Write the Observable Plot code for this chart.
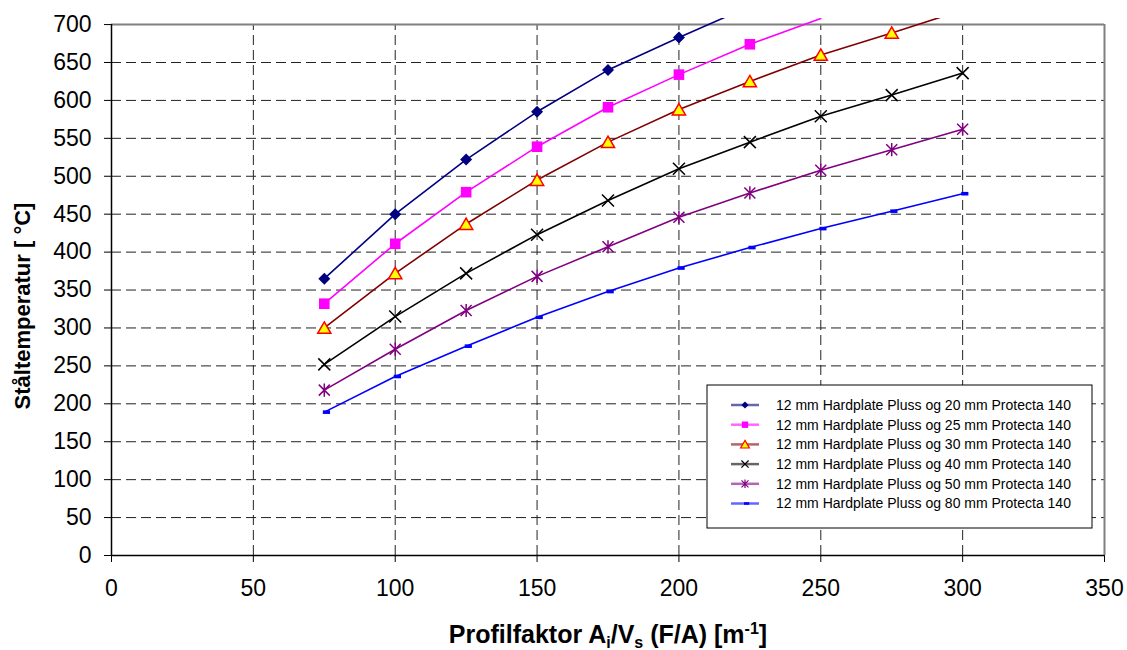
<!DOCTYPE html>
<html>
<head>
<meta charset="utf-8">
<script src="https://cdn.jsdelivr.net/npm/d3@7"></script>
<script src="https://cdn.jsdelivr.net/npm/@observablehq/plot@0.6"></script>
<style>
  html, body { margin: 0; padding: 0; background: #fff; }
  #chart { width: 1127px; height: 650px; }
</style>
</head>
<body>
<div id="chart"></div>
<script>
// Profile factor (x) and steel temperature (y) per insulation build-up
const profileFactors = [75, 100, 125, 150, 175, 200, 225, 250, 275, 300];

const seriesNames = [
  "12 mm Hardplate Pluss og 20 mm Protecta 140",
  "12 mm Hardplate Pluss og 25 mm Protecta 140",
  "12 mm Hardplate Pluss og 30 mm Protecta 140",
  "12 mm Hardplate Pluss og 40 mm Protecta 140",
  "12 mm Hardplate Pluss og 50 mm Protecta 140",
  "12 mm Hardplate Pluss og 80 mm Protecta 140"
];

const temp20 = [365, 450, 522, 585, 640, 683, 724];
const temp25 = [332, 411, 479, 539, 591, 634, 674, 708];
const temp30 = [300, 372, 437, 495, 545, 588, 625, 660, 689, 719];
const temp40 = [252, 315, 372, 423, 468, 510, 545, 579, 607, 636];
const temp50 = [218, 272, 323, 368, 407, 446, 478, 508, 535, 562];
const temp80 = [189, 236, 276, 314, 348, 379, 406, 431, 454, 477];

const xTicks = [0, 50, 100, 150, 200, 250, 300, 350];
const yTicks = [0, 50, 100, 150, 200, 250, 300, 350, 400, 450, 500, 550, 600, 650, 700];
const xGrid = [50, 100, 150, 200, 250, 300];
const yGrid = [50, 100, 150, 200, 250, 300, 350, 400, 450, 500, 550, 600, 650];
const yMax = 700;

// Marker shapes in the spreadsheet style
const diamond = {draw(c, size) {
  const r = Math.sqrt(size / Math.PI);
  c.moveTo(0, -r); c.lineTo(r, 0); c.lineTo(0, r); c.lineTo(-r, 0); c.closePath();
}};
const square = {draw(c, size) {
  const r = Math.sqrt(size / Math.PI);
  c.rect(-r, -r, 2 * r, 2 * r);
}};
const triangle = {draw(c, size) {
  const r = Math.sqrt(size / Math.PI);
  c.moveTo(0, -r); c.lineTo(r * 1.1, r * 0.9); c.lineTo(-r * 1.1, r * 0.9); c.closePath();
}};
const cross = {draw(c, size) {
  const r = Math.sqrt(size / Math.PI);
  c.moveTo(-r, -r); c.lineTo(r, r); c.moveTo(-r, r); c.lineTo(r, -r);
}};
const star = {draw(c, size) {
  const r = Math.sqrt(size / Math.PI);
  c.moveTo(-r, -r); c.lineTo(r, r); c.moveTo(-r, r); c.lineTo(r, -r);
  c.moveTo(0, -r * 1.2); c.lineTo(0, r * 1.2);
}};
const dash = {draw(c, size) {
  const r = Math.sqrt(size / Math.PI);
  c.rect(-r * 0.4, -r * 0.5, r * 2, r);
}};

const styles = [
  {line: "#000080", symbol: diamond,  fill: "#000080", stroke: "none",    r: 6,   sw: 0},
  {line: "#ff00ff", symbol: square,   fill: "#ff00ff", stroke: "none",    r: 5.3, sw: 0},
  {line: "#800000", symbol: triangle, fill: "#ffff00", stroke: "#ff0000", r: 6,   sw: 1.5},
  {line: "#000000", symbol: cross,    fill: "none",    stroke: "#000000", r: 6,   sw: 1.5},
  {line: "#800080", symbol: star,     fill: "none",    stroke: "#800080", r: 5.5, sw: 1.5},
  {line: "#0000ff", symbol: dash,     fill: "#0000ff", stroke: "none",    r: 3.6, sw: 0}
];

const temps = [temp20, temp25, temp30, temp40, temp50, temp80];
const rows = temps.map((vals, i) =>
  vals.map((t, j) => ({series: seriesNames[i], x: profileFactors[j], y: t}))
);

const font = "'Liberation Sans', Arial, sans-serif";
const gridStyle = {stroke: "#222", strokeWidth: 1, strokeDasharray: "10,5"};

const seriesMarks = rows.flatMap((data, i) => {
  const s = styles[i];
  return [
    Plot.line(data, {x: "x", y: "y", stroke: s.line, strokeWidth: 1.6, clip: true}),
    Plot.dot(data.filter(d => d.y <= yMax), {
      x: "x", y: "y", symbol: s.symbol, r: s.r,
      fill: s.fill, stroke: s.stroke, strokeWidth: s.sw
    })
  ];
});

const chart = Plot.plot({
  width: 1127,
  height: 650,
  marginLeft: 111,
  marginRight: 23,
  marginTop: 18,
  marginBottom: 95,
  style: {fontFamily: font, fontSize: "23px", color: "#000", background: "#fff", overflow: "visible"},
  x: {domain: [0, 350]},
  y: {domain: [0, 708]},
  marks: [
    Plot.ruleY(yGrid, {x1: 0, x2: 350, ...gridStyle}),
    Plot.ruleX(xGrid, {y1: 0, y2: yMax, ...gridStyle}),
    Plot.ruleY([yMax], {x1: 0, x2: 350, stroke: "#808080", strokeWidth: 2}),
    Plot.ruleX([350], {y1: 0, y2: yMax, stroke: "#808080", strokeWidth: 2}),
    Plot.axisX({ticks: xTicks, tickSize: 7, tickPadding: 17, label: null, tickFormat: d => String(d)}),
    Plot.axisY({ticks: yTicks, tickSize: 7, tickPadding: 13, label: null, tickFormat: d => String(d)}),
    Plot.ruleX([0], {y1: 0, y2: yMax, stroke: "#000", strokeWidth: 1.5}),
    Plot.ruleY([0], {x1: 0, x2: 350, stroke: "#000", strokeWidth: 1.5}),
    ...seriesMarks
  ]
});

document.getElementById("chart").appendChild(chart);

const svg = d3.select(chart);

// Axis titles
const xt = svg.append("text")
  .attr("x", 608).attr("y", 643)
  .attr("text-anchor", "middle")
  .attr("font-family", font).attr("font-weight", "bold").attr("font-size", 25)
  .attr("fill", "#000");
xt.append("tspan").text("Profilfaktor A");
xt.append("tspan").attr("font-size", 16).attr("dy", 5).text("i");
xt.append("tspan").attr("dy", -5).text("/V");
xt.append("tspan").attr("font-size", 16).attr("dy", 5).text("s");
xt.append("tspan").attr("dy", -5).text(" (F/A) [m");
xt.append("tspan").attr("font-size", 16).attr("dy", -9).text("-1");
xt.append("tspan").attr("dy", 9).text("]");

svg.append("text")
  .attr("transform", "translate(30,306) rotate(-90)")
  .attr("text-anchor", "middle")
  .attr("font-family", font).attr("font-weight", "bold").attr("font-size", 22)
  .attr("fill", "#000")
  .text("Ståltemperatur [ °C]");

// Legend
const lg = svg.append("g").attr("transform", "translate(707,385)");
lg.append("rect").attr("width", 385).attr("height", 143)
  .attr("fill", "#fff").attr("stroke", "#000").attr("stroke-width", 1);
const legendSize = [3.6, 3.2, 4, 3.6, 3.5, 2.6];
seriesNames.forEach((name, i) => {
  const s = styles[i];
  const y = 20 + i * 19.7;
  const row = lg.append("g").attr("transform", `translate(0,${y})`);
  row.append("line").attr("x1", 24).attr("x2", 52)
    .attr("stroke", s.line).attr("stroke-opacity", 0.6).attr("stroke-width", 2.5);
  const r = legendSize[i];
  row.append("path")
    .attr("transform", "translate(38,0)")
    .attr("d", d3.symbol(s.symbol, Math.PI * r * r)())
    .attr("fill", s.fill).attr("stroke", s.stroke).attr("stroke-width", s.sw ? 1.2 : 0);
  row.append("text").attr("x", 69).attr("y", 0).attr("dy", "0.35em")
    .attr("text-anchor", "start")
    .attr("font-family", font).attr("font-size", 14).attr("fill", "#000")
    .text(name);
});
</script>
</body>
</html>
